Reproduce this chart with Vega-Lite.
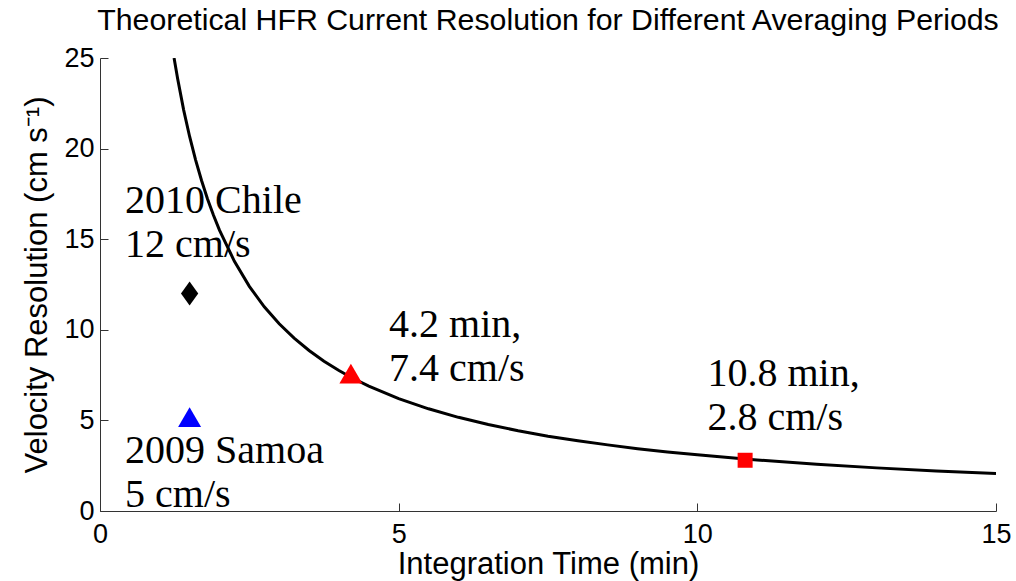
{
  "$schema": "https://vega.github.io/schema/vega-lite/v6.json",
  "autosize": {"type": "none"},
  "width": 896,
  "height": 453,
  "padding": {"left": 100, "top": 58, "right": 20, "bottom": 70},
  "background": "white",
  "title": {
    "text": "Theoretical HFR Current Resolution for Different Averaging Periods",
    "font": "Liberation Sans, Arial, sans-serif",
    "fontSize": 30.3,
    "fontWeight": "normal",
    "color": "black",
    "anchor": "middle",
    "baseline": "alphabetic",
    "offset": -16
  },
  "config": {
    "view": {"stroke": null},
    "axis": {
      "grid": false,
      "domainColor": "#333",
      "domainWidth": 1,
      "tickColor": "#333",
      "tickWidth": 1,
      "tickSize": -8,
      "labelFlush": false,
      "labelOverlap": false,
      "labelFont": "Liberation Sans, Arial, sans-serif",
      "labelFontSize": 27,
      "labelColor": "black",
      "titleFont": "Liberation Sans, Arial, sans-serif",
      "titleFontSize": 31,
      "titleFontWeight": "normal",
      "titleColor": "black"
    }
  },
  "datasets": {
    "curve": [
      {"t": 1.24, "v": 25.0}, {"t": 1.3, "v": 23.85}, {"t": 1.4, "v": 22.14},
      {"t": 1.5, "v": 20.67}, {"t": 1.6, "v": 19.38}, {"t": 1.7, "v": 18.24},
      {"t": 1.8, "v": 17.22}, {"t": 1.9, "v": 16.32}, {"t": 2.0, "v": 15.5},
      {"t": 2.25, "v": 13.78}, {"t": 2.5, "v": 12.4}, {"t": 2.75, "v": 11.27},
      {"t": 3.0, "v": 10.33}, {"t": 3.25, "v": 9.54}, {"t": 3.5, "v": 8.86},
      {"t": 3.75, "v": 8.27}, {"t": 4.0, "v": 7.75}, {"t": 4.2, "v": 7.38},
      {"t": 4.5, "v": 6.89}, {"t": 5.0, "v": 6.2}, {"t": 5.5, "v": 5.64},
      {"t": 6.0, "v": 5.17}, {"t": 6.5, "v": 4.77}, {"t": 7.0, "v": 4.43},
      {"t": 7.5, "v": 4.13}, {"t": 8.0, "v": 3.88}, {"t": 8.5, "v": 3.65},
      {"t": 9.0, "v": 3.44}, {"t": 9.5, "v": 3.26}, {"t": 10.0, "v": 3.1},
      {"t": 10.8, "v": 2.87}, {"t": 11.0, "v": 2.82}, {"t": 12.0, "v": 2.58},
      {"t": 13.0, "v": 2.38}, {"t": 14.0, "v": 2.21}, {"t": 15.0, "v": 2.07}
    ],
    "events": [
      {"event": "2010 Chile", "t": 1.5, "v": 12},
      {"event": "2009 Samoa", "t": 1.5, "v": 5},
      {"event": "4.2 min", "t": 4.2, "v": 7.4},
      {"event": "10.8 min", "t": 10.8, "v": 2.8}
    ],
    "notes": [
      {"label": "2010 Chile\n12 cm/s", "t": 0.42, "v": 16.45},
      {"label": "2009 Samoa\n5 cm/s", "t": 0.42, "v": 2.65},
      {"label": "4.2 min,\n7.4 cm/s", "t": 4.84, "v": 9.6},
      {"label": "10.8 min,\n2.8 cm/s", "t": 10.17, "v": 6.9}
    ]
  },
  "encoding": {
    "x": {
      "field": "t",
      "type": "quantitative",
      "scale": {"domain": [0, 15], "nice": false, "zero": false},
      "axis": {"values": [0, 5, 10, 15], "title": "Integration Time (min)", "labelPadding": 18, "titlePadding": 2}
    },
    "y": {
      "field": "v",
      "type": "quantitative",
      "scale": {"domain": [0, 25], "nice": false, "zero": false},
      "axis": {"values": [0, 5, 10, 15, 20, 25], "title": "Velocity Resolution (cm s⁻¹)", "labelPadding": 14, "titlePadding": 10}
    }
  },
  "layer": [
    {
      "data": {"name": "curve"},
      "mark": {"type": "line", "color": "black", "strokeWidth": 3, "clip": true}
    },
    {
      "data": {"name": "events"},
      "transform": [{"filter": "datum.event === '2010 Chile'"}],
      "mark": {"type": "point", "shape": "M0,-1L0.72,0L0,1L-0.72,0Z", "size": 576, "filled": true, "color": "black", "opacity": 1}
    },
    {
      "data": {"name": "events"},
      "transform": [{"filter": "datum.event === '2009 Samoa'"}],
      "mark": {"type": "point", "shape": "M0,-1.15L1,0.58L-1,0.58Z", "size": 529, "filled": true, "color": "blue", "opacity": 1}
    },
    {
      "data": {"name": "events"},
      "transform": [{"filter": "datum.event === '4.2 min'"}],
      "mark": {"type": "point", "shape": "M0,-1.15L1,0.58L-1,0.58Z", "size": 529, "filled": true, "color": "red", "opacity": 1}
    },
    {
      "data": {"name": "events"},
      "transform": [{"filter": "datum.event === '10.8 min'"}],
      "mark": {"type": "point", "shape": "square", "size": 225, "filled": true, "color": "red", "opacity": 1}
    },
    {
      "data": {"name": "notes"},
      "mark": {
        "type": "text",
        "align": "left",
        "baseline": "alphabetic",
        "lineBreak": "\n",
        "lineHeight": 44,
        "font": "Liberation Serif, DejaVu Serif, serif",
        "fontSize": 40,
        "color": "black"
      },
      "encoding": {"text": {"field": "label"}}
    }
  ]
}
